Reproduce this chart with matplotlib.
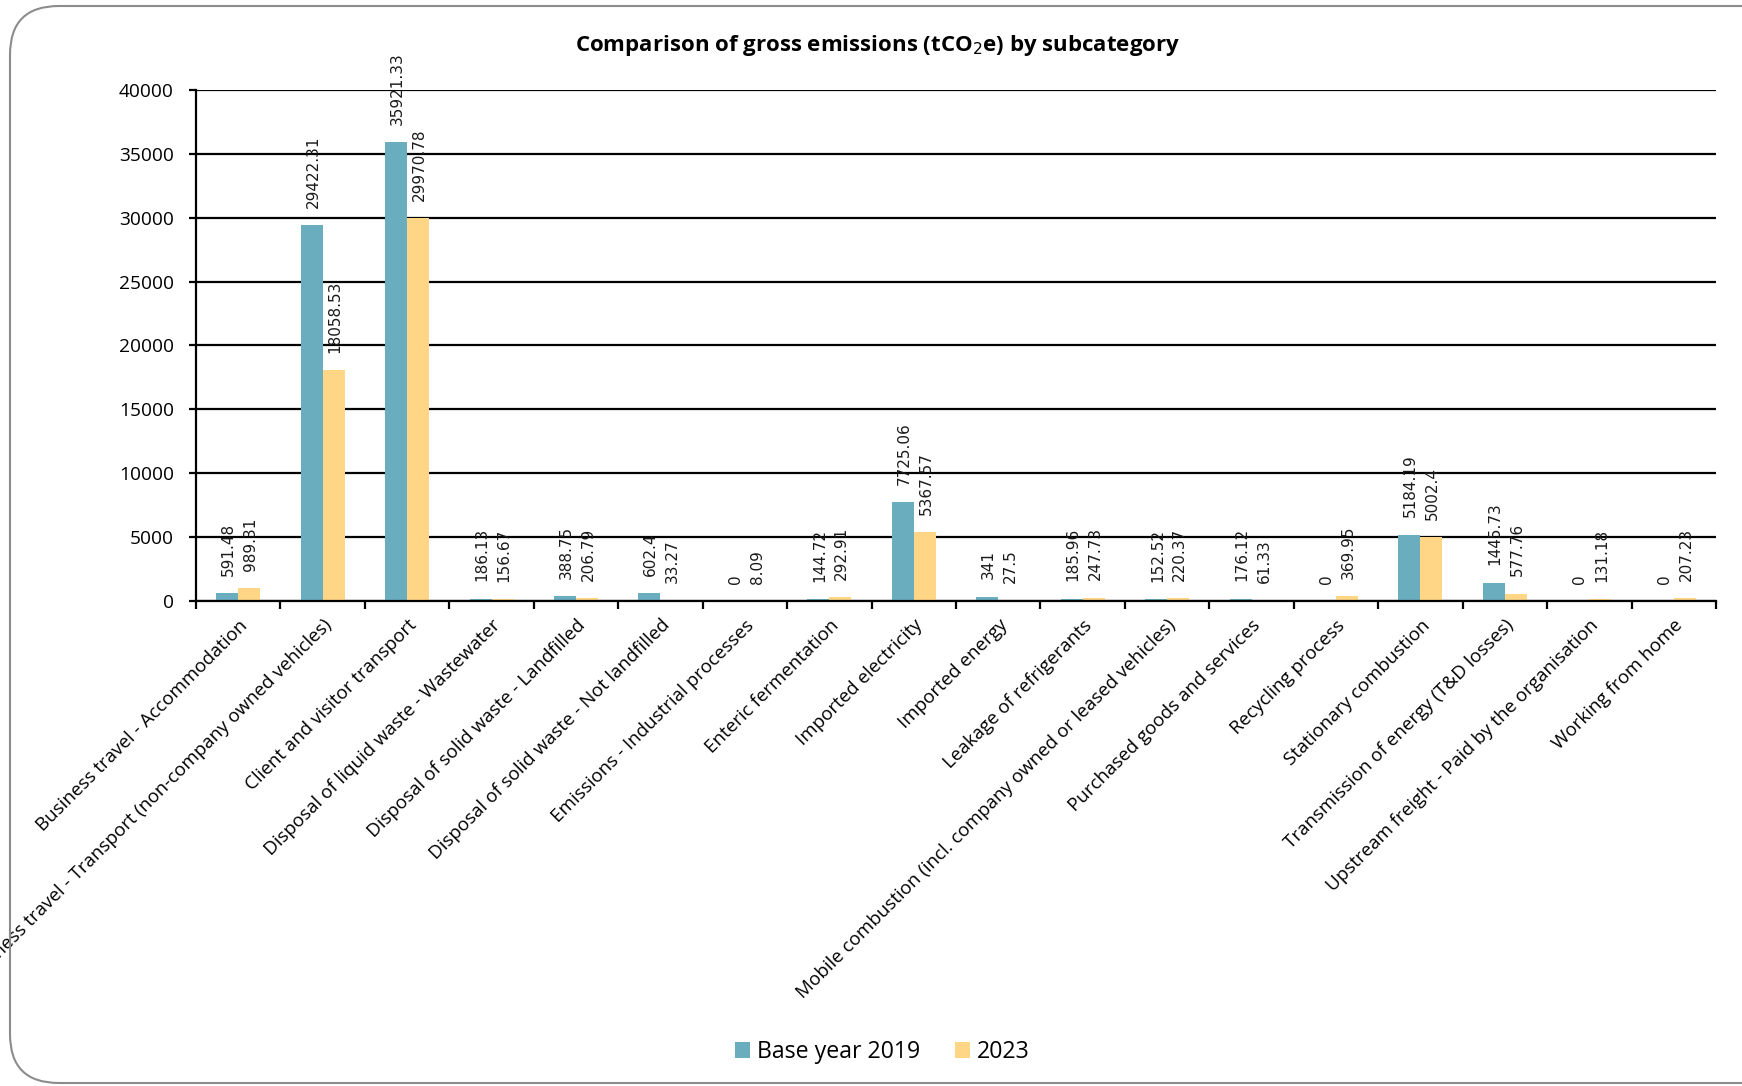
import matplotlib.pyplot as plt
import numpy as np
from matplotlib.patches import FancyBboxPatch

categories = [
    "Business travel - Accommodation",
    "Business travel - Transport (non-company owned vehicles)",
    "Client and visitor transport",
    "Disposal of liquid waste - Wastewater",
    "Disposal of solid waste - Landfilled",
    "Disposal of solid waste - Not landfilled",
    "Emissions - Industrial processes",
    "Enteric fermentation",
    "Imported electricity",
    "Imported energy",
    "Leakage of refrigerants",
    "Mobile combustion (incl. company owned or leased vehicles)",
    "Purchased goods and services",
    "Recycling process",
    "Stationary combustion",
    "Transmission of energy (T&D losses)",
    "Upstream freight - Paid by the organisation",
    "Working from home",
]
base_2019 = [591.48, 29422.31, 35921.33, 186.13, 388.75, 602.4, 0, 144.72, 7725.06,
             341, 185.96, 152.52, 176.12, 0, 5184.19, 1445.73, 0, 0]
year_2023 = [989.31, 18058.53, 29970.78, 156.67, 206.79, 33.27, 8.09, 292.91, 5367.57,
             27.5, 247.73, 220.37, 61.33, 369.95, 5002.4, 577.76, 131.18, 207.23]
series_names = ["Base year 2019", "2023"]
y_ticks = [0, 5000, 10000, 15000, 20000, 25000, 30000, 35000, 40000]

teal = "#6aadbf"
yellow = "#ffd686"
font = ["Open Sans", "DejaVu Sans"]

fig = plt.figure(figsize=(17.42, 10.86), dpi=100)
ax = fig.add_axes([196 / 1742, 1 - 601 / 1086, (1716 - 196) / 1742, (601 - 90) / 1086])

# rounded chart-area border, right side runs off the canvas
border = FancyBboxPatch((10 / 1742, 3 / 1086), 1.2, 1077 / 1086,
                        boxstyle="round,pad=0,rounding_size=0.028",
                        transform=fig.transFigure, fill=False,
                        edgecolor="#8c8c8c", linewidth=1.5, mutation_aspect=1742 / 1086)
fig.patches.append(border)

x = np.arange(len(categories))
w = 0.26
ax.set_axisbelow(True)
b1 = ax.bar(x - w / 2, base_2019, w, color=teal, label=series_names[0])
b2 = ax.bar(x + w / 2, year_2023, w, color=yellow, label=series_names[1])

for bars, vals in ((b1, base_2019), (b2, year_2023)):
    for bar, v in zip(bars, vals):
        ax.annotate(str(v), (bar.get_x() + bar.get_width() / 2, v),
                    xytext=(1, 12.5), textcoords="offset points",
                    rotation=90, ha="center", va="bottom",
                    fontsize=11, family="DejaVu Sans", color="#1a1a1a",
                    annotation_clip=False)

ax.set_xlim(-0.5, len(categories) - 0.5)
ax.set_ylim(0, 40000)
ax.set_yticks(y_ticks)
ax.set_yticklabels([str(t) for t in y_ticks], family=font, fontsize=13.8)
ax.yaxis.grid(True, color="black", linewidth=1.6)
ax.tick_params(axis="y", length=5, width=1.6, pad=11)

ax.set_xticks(x)
ax.set_xticklabels(categories, rotation=45, ha="right", rotation_mode="anchor",
                   family=font, fontsize=13.5)
ax.set_xticks(np.arange(-0.5, len(categories)), minor=True)
ax.tick_params(axis="x", which="major", length=0, pad=11)
ax.tick_params(axis="x", which="minor", length=6, width=1.6)

for side in ("top", "right"):
    ax.spines[side].set_visible(False)
for side in ("left", "bottom"):
    ax.spines[side].set_linewidth(1.6)

fig.text(878 / 1742, 1 - 45 / 1086, "Comparison of gross emissions (tCO$_2$e) by subcategory",
         ha="center", va="center", fontsize=16, fontweight="bold", family=font)

fig.legend(handles=[b1, b2], labels=series_names, loc="center",
           bbox_to_anchor=(882 / 1742, 1 - 1052 / 1086), ncol=2, frameon=False,
           prop={"family": font, "size": 16.7}, handlelength=0.65, handleheight=0.65,
           handletextpad=0.3, columnspacing=1.5)

fig.savefig("out.png", dpi=100, facecolor="white")
